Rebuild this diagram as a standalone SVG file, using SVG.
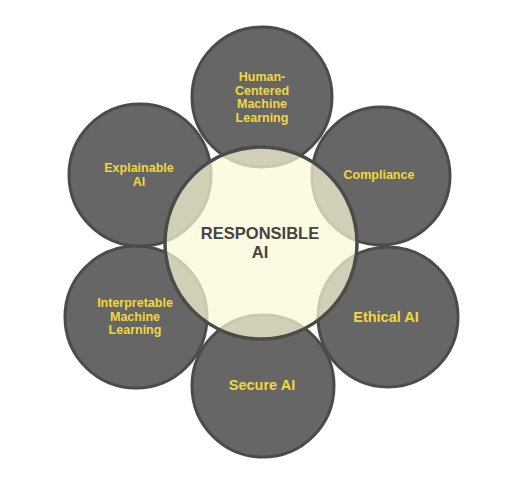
<svg xmlns="http://www.w3.org/2000/svg" width="526" height="480" viewBox="0 0 526 480">
  <style>
    .outer { fill: #666666; stroke: #4b4b49; stroke-width: 3; }
    .center { fill: #fcf8d8; fill-opacity: 0.72; stroke: #4b4b49; stroke-width: 3.5; }
    .lbl { font-family: "Liberation Sans", Arial, sans-serif; font-weight: bold; fill: #f2d83a; text-anchor: middle; font-size: 12.5px; }
    .big { font-size: 14.5px; }
    .ctr { font-family: "Liberation Sans", Arial, sans-serif; font-weight: bold; fill: #444444; text-anchor: middle; font-size: 16.5px; }
  </style>
  <rect width="526" height="480" fill="#ffffff"/>
  <g id="connectors"></g>
  <g id="node-human-centered">
    <circle class="outer" cx="262" cy="97" r="70"/>
    <text class="lbl" x="262" y="81">Human-</text>
    <text class="lbl" x="262" y="95">Centered</text>
    <text class="lbl" x="262" y="108">Machine</text>
    <text class="lbl" x="262" y="122">Learning</text>
  </g>
  <g id="node-compliance">
    <circle class="outer" cx="381" cy="176" r="69"/>
    <text class="lbl" x="379" y="179">Compliance</text>
  </g>
  <g id="node-ethical">
    <circle class="outer" cx="388" cy="317" r="70"/>
    <text class="lbl big" x="386" y="322">Ethical AI</text>
  </g>
  <g id="node-secure">
    <circle class="outer" cx="263" cy="386" r="71"/>
    <text class="lbl big" x="262" y="390">Secure AI</text>
  </g>
  <g id="node-interpretable">
    <circle class="outer" cx="136" cy="317" r="71"/>
    <text class="lbl" x="135" y="307">Interpretable</text>
    <text class="lbl" x="135" y="321">Machine</text>
    <text class="lbl" x="135" y="334">Learning</text>
  </g>
  <g id="node-explainable">
    <circle class="outer" cx="140" cy="175" r="71"/>
    <text class="lbl" x="139" y="172">Explainable</text>
    <text class="lbl" x="139" y="186">AI</text>
  </g>
  <g id="node-responsible">
    <circle class="center" cx="261" cy="243" r="96"/>
    <text class="ctr" x="260" y="239">RESPONSIBLE</text>
    <text class="ctr" x="260" y="258">AI</text>
  </g>
</svg>
